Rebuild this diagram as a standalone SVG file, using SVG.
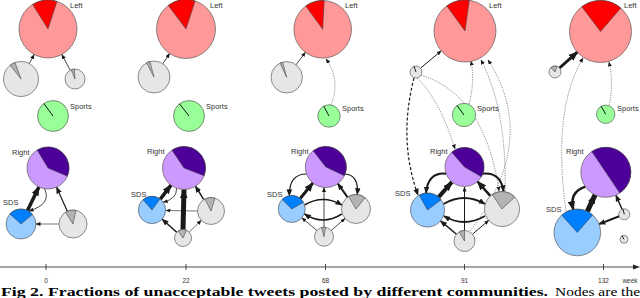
<svg xmlns="http://www.w3.org/2000/svg" width="640" height="298" viewBox="0 0 640 298">
<defs>
<style>
.n{stroke:#444;stroke-width:0.6}
.L{fill:#ff9999}.Ld{fill:#ff0000}
.S{fill:#99ff99}
.R{fill:#cc99ff}.Rd{fill:#4c0099}
.D{fill:#99ccff}.Dd{fill:#0080ff}
.G{fill:#e6e6e6}.Gd{fill:#b3b3b3}
.k{stroke:#000;stroke-width:0.9}
.t{font-family:"Liberation Sans",Arial,sans-serif;font-size:7.5px;fill:#333}
.e{fill:none;stroke:#1a1a1a}
.d{fill:none;stroke:#555;stroke-width:0.7;stroke-dasharray:1.2,1.2}
.a1{marker-end:url(#a1)}.a2{marker-end:url(#a2)}.a3{marker-end:url(#a3)}
.tk{font-family:"Liberation Sans",Arial,sans-serif;font-size:6.5px;fill:#333;text-anchor:middle}
</style>
<marker id="a1" viewBox="0 0 10 8" refX="9" refY="4" markerWidth="5" markerHeight="4" markerUnits="userSpaceOnUse" orient="auto"><path d="M0,0 L10,4 L0,8 z" fill="#1a1a1a"/></marker>
<marker id="a2" viewBox="0 0 10 8" refX="9" refY="4" markerWidth="7" markerHeight="5.6" markerUnits="userSpaceOnUse" orient="auto"><path d="M0,0 L10,4 L0,8 z" fill="#1a1a1a"/></marker>
<marker id="a3" viewBox="0 0 10 8" refX="9" refY="4" markerWidth="9.5" markerHeight="7.6" markerUnits="userSpaceOnUse" orient="auto"><path d="M0,0 L10,4 L0,8 z" fill="#1a1a1a"/></marker>
</defs>
<rect width="640" height="298" fill="#fff"/>

<g id="connectors">
<!-- panel 1 -->
<path class="e a1" stroke-width="0.8" d="M29.3,63.6 L34.2,54.5"/>
<path class="e a1" stroke-width="0.8" d="M70.25,70.2 L61.8,54.5"/>
<path class="e a3" stroke-width="3.5" d="M27.5,210.5 L38.9,186.9"/>
<path class="e a1" stroke-width="0.8" d="M44.5,188.7 Q52,204 29,211"/>
<path class="e a2" stroke-width="1.2" d="M67.3,211.2 L56.6,187.2"/>
<path class="e a1" stroke-width="0.6" d="M59,224 L36,224"/>
<!-- panel 2 -->
<path class="e a1" stroke-width="0.8" d="M162.9,63.7 L169.6,53.5"/>
<path class="e a3" stroke-width="3.5" d="M160.3,199.1 L171,185.1"/>
<path class="e a1" stroke-width="0.8" d="M176.6,188.2 Q177,199 163.2,202.1"/>
<path class="e a3" stroke-width="5" d="M183,229.5 L184,189.5"/>
<path class="e a2" stroke-width="1.5" d="M203.8,199.6 L195.4,186.2"/>
<path class="e a1" stroke-width="0.6" d="M197.5,211 L166,210.5"/>
<path class="e a2" stroke-width="1.5" d="M176.7,232.3 L162.2,219.2"/>
<path class="e a1" stroke-width="0.6" d="M189.1,232.1 L201.3,220.4"/>
<!-- panel 3 -->
<path class="e a1" stroke-width="0.8" d="M296.1,64.7 L305.4,52.3"/>
<path class="d a1" d="M331,105 Q341,80 326,59"/>
<path class="e a2" stroke-width="1.2" d="M306.5,174 Q289,174 289.4,195.7"/>
<path class="e a3" stroke-width="3" d="M300.2,198.5 L312.9,182.9"/>
<path class="e a2" stroke-width="1.2" d="M345.1,174 Q359,175 357.3,194.6"/>
<path class="e a2" stroke-width="2" d="M347.5,197.2 L337.8,183.6"/>
<path class="e a1" stroke-width="0.8" d="M324,227 L324,187.5"/>
<path class="e a2" stroke-width="1.5" d="M304.5,205 Q323,194 341.8,205"/>
<path class="e a2" stroke-width="1.5" d="M341.8,214 Q323,226 304.5,214"/>
<path class="e a1" stroke-width="0.8" d="M316.8,230.5 L301.9,217.8"/>
<path class="e a1" stroke-width="0.8" d="M331.2,230.5 L345,218.5"/>
<!-- panel 4 -->
<path class="e a1" stroke-width="1" d="M420.6,68.1 L441.2,50.9"/>
<path class="d a1" d="M469,104 Q475,82 471,61"/>
<path class="d a1" d="M417,78 Q440,100 455,149"/>
<path class="e a2" stroke-width="1.2" stroke-dasharray="3,2" d="M414,78 Q398,140 418,195"/>
<path class="d a1" d="M421,75 Q485,95 499,191"/>
<path class="d a1" d="M505,191 Q507,110 481,60"/>
<path class="d a1" d="M470,231 Q540,140 488,60"/>
<path class="e a2" stroke-width="2" d="M446.2,173.7 Q428,172 426,193"/>
<path class="e a3" stroke-width="4" d="M438.6,197.1 L451.8,182.2"/>
<path class="e a2" stroke-width="2" d="M482.8,173.7 Q501,172 503.5,191.6"/>
<path class="e a3" stroke-width="2.5" d="M490.3,195.9 L477.5,181.5"/>
<path class="e a2" stroke-width="2" d="M443.5,204 Q464,192 485,204"/>
<path class="e a2" stroke-width="2" d="M485,216 Q464,228 444,216"/>
<path class="e a1" stroke-width="1" d="M464.5,230.5 L464.5,187"/>
<path class="e a2" stroke-width="1.5" d="M456.5,234.3 L440.5,220.9"/>
<path class="e a1" stroke-width="1" d="M472.5,234.2 L488.7,220.4"/>
<!-- panel 5 -->
<path class="e a3" stroke-width="3" d="M559.5,68 L577.3,52.1"/>
<path class="d a1" d="M609,105.5 Q614,85 609,62"/>
<path class="d a1" d="M566,211 Q552,110 583,58"/>
<path class="e a3" stroke-width="2.5" d="M585.3,186.6 Q569,192 573.3,209.6"/>
<path class="e a3" stroke-width="5" d="M587.3,211.4 L595.1,194.9"/>
<path class="e a2" stroke-width="1.5" d="M622.1,209.3 L615.9,195.2"/>
<path class="e a2" stroke-width="2" d="M619.2,216.3 L599,224.1"/>
</g>

<!-- Panel 1 -->
<g id="p1-left"><circle class="n L" cx="48" cy="29" r="29"/><path class="n Ld" d="M48,29 L32.63,4.41 A29,29 0 0 1 56.96,1.42 Z"/><text class="t" x="70" y="8">Left</text></g>
<g id="p1-node-a"><circle class="n G" cx="21" cy="79" r="17.5"/><path class="n Gd" d="M21,79 L10.22,65.21 A17.5,17.5 0 0 1 15.01,62.56 Z"/></g>
<g id="p1-node-b"><circle class="n G" cx="75" cy="79" r="10"/><path class="n Gd" d="M75,79 L71.25,69.73 A10,10 0 0 1 74.3,69.02 Z"/></g>
<g id="p1-sports"><circle class="n S" cx="53" cy="116" r="15.5"/><line class="k" x1="53" y1="116" x2="43.89" y2="103.46"/><text class="t" x="70" y="109">Sports</text></g>
<g id="p1-right"><circle class="n R" cx="48" cy="168" r="21"/><path class="n Rd" d="M48,168 L37.18,150 A21,21 0 0 1 67.33,176.21 Z"/><text class="t" x="12" y="155">Right</text></g>
<g id="p1-sds"><circle class="n D" cx="21" cy="224" r="15"/><path class="n Dd" d="M21,224 L9.85,213.96 A15,15 0 0 1 32.49,214.36 Z"/><text class="t" x="3" y="205">SDS</text></g>
<g id="p1-node-c"><circle class="n G" cx="73" cy="224" r="14"/><path class="n Gd" d="M73,224 L65.58,212.13 A14,14 0 0 1 75.91,210.31 Z"/></g>

<!-- Panel 2 -->
<g id="p2-left"><circle class="n L" cx="186" cy="29" r="29.5"/><path class="n Ld" d="M186,29 L168.24,5.43 A29.5,29.5 0 0 1 195.12,0.95 Z"/><text class="t" x="210" y="8">Left</text></g>
<g id="p2-node-a"><circle class="n G" cx="154" cy="77" r="16"/><path class="n Gd" d="M154,77 L146.5,62.87 A16,16 0 0 1 149.86,61.54 Z"/></g>
<g id="p2-sports"><circle class="n S" cx="189" cy="116" r="15.5"/><line class="k" x1="189" y1="116" x2="179.46" y2="103.79"/><text class="t" x="206" y="109">Sports</text></g>
<g id="p2-right"><circle class="n R" cx="184" cy="168" r="21.5"/><path class="n Rd" d="M184,168 L171.98,150.18 A21.5,21.5 0 0 1 204.07,175.7 Z"/><text class="t" x="147" y="154">Right</text></g>
<g id="p2-sds"><circle class="n D" cx="152" cy="210" r="13.7"/><path class="n Dd" d="M152,210 L143.01,199.66 A13.7,13.7 0 0 1 160.05,198.92 Z"/><text class="t" x="131" y="197">SDS</text></g>
<g id="p2-node-c"><circle class="n G" cx="211" cy="211" r="13.5"/><path class="n Gd" d="M211,211 L204.87,198.97 A13.5,13.5 0 0 1 214.94,198.09 Z"/></g>
<g id="p2-node-d"><circle class="n G" cx="183" cy="238" r="8.5"/><path class="n Gd" d="M183,238 L178.12,231.04 A8.5,8.5 0 0 1 186.6,230.3 Z"/></g>

<!-- Panel 3 -->
<g id="p3-left"><circle class="n L" cx="322.7" cy="29.3" r="28.8"/><path class="n Ld" d="M322.7,29.3 L305.77,6 A28.8,28.8 0 0 1 324.21,0.53 Z"/><text class="t" x="345" y="8">Left</text></g>
<g id="p3-node-a"><circle class="n G" cx="286.7" cy="77.3" r="15.7"/><path class="n Gd" d="M286.7,77.3 L280.06,63.08 A15.7,15.7 0 0 1 282.63,62.13 Z"/></g>
<g id="p3-sports"><circle class="n S" cx="329" cy="116" r="11.2"/><line class="k" x1="329" y1="116" x2="323.75" y2="106.11"/><text class="t" x="342" y="111">Sports</text></g>
<g id="p3-right"><circle class="n R" cx="325.8" cy="167" r="20.5"/><path class="n Rd" d="M325.8,167 L313.17,150.85 A20.5,20.5 0 0 1 344.38,175.66 Z"/><text class="t" x="291" y="154">Right</text></g>
<g id="p3-sds"><circle class="n D" cx="291.7" cy="209" r="13.5"/><path class="n Dd" d="M291.7,209 L282.15,199.45 A13.5,13.5 0 0 1 303.39,202.25 Z"/><text class="t" x="267" y="197">SDS</text></g>
<g id="p3-node-c"><circle class="n G" cx="356" cy="209" r="14.5"/><path class="n Gd" d="M356,209 L348.53,196.57 A14.5,14.5 0 0 1 365.12,197.73 Z"/></g>
<g id="p3-node-d"><circle class="n G" cx="324" cy="236.7" r="9.5"/><path class="n Gd" d="M324,236.7 L321.54,227.52 A9.5,9.5 0 0 1 325.65,227.34 Z"/></g>

<!-- Panel 4 -->
<g id="p4-left"><circle class="n L" cx="465" cy="31" r="31"/><path class="n Ld" d="M465,31 L446.78,5.92 A31,31 0 0 1 469.31,0.3 Z"/><text class="t" x="489" y="8">Left</text></g>
<g id="p4-node-a"><circle class="n G" cx="416" cy="72" r="6"/><line class="k" x1="416" y1="72" x2="413.95" y2="66.36"/></g>
<g id="p4-sports"><circle class="n S" cx="464" cy="115" r="11.7"/><line class="k" x1="464" y1="115" x2="457.12" y2="105.53"/><text class="t" x="477" y="111">Sports</text></g>
<g id="p4-right"><circle class="n R" cx="464.5" cy="167" r="19.5"/><path class="n Rd" d="M464.5,167 L451.71,152.28 A19.5,19.5 0 0 1 481.39,176.75 Z"/><text class="t" x="430" y="154">Right</text></g>
<g id="p4-sds"><circle class="n D" cx="427.5" cy="210" r="17"/><path class="n Dd" d="M427.5,210 L419.26,195.13 A17,17 0 0 1 441.08,199.77 Z"/><text class="t" x="395" y="196">SDS</text></g>
<g id="p4-node-c"><circle class="n G" cx="502" cy="209" r="17.5"/><path class="n Gd" d="M502,209 L492.21,194.49 A17.5,17.5 0 0 1 514.8,197.07 Z"/></g>
<g id="p4-node-d"><circle class="n G" cx="464.5" cy="241" r="10.5"/><path class="n Gd" d="M464.5,241 L459.25,231.91 A10.5,10.5 0 0 1 464.5,230.5 Z"/></g>

<!-- Panel 5 -->
<g id="p5-left"><circle class="n L" cx="600.5" cy="31.5" r="31"/><path class="n Ld" d="M600.5,31.5 L581.84,6.73 A31,31 0 0 1 620.84,8.09 Z"/><text class="t" x="624" y="8">Left</text></g>
<g id="p5-node-a"><circle class="n G" cx="555" cy="72" r="6"/><path class="n Gd" d="M555,72 L550.76,67.76 A6,6 0 0 1 557.05,66.36 Z"/></g>
<g id="p5-sports"><circle class="n S" cx="605.7" cy="114.3" r="9.2"/><line class="k" x1="605.7" y1="114.3" x2="601.1" y2="106.3"/><text class="t" x="617" y="111">Sports</text></g>
<g id="p5-right"><circle class="n R" cx="605.8" cy="172.3" r="25"/><path class="n Rd" d="M605.8,172.3 L591.82,151.57 A25,25 0 0 1 619.78,193.03 Z"/><text class="t" x="566" y="154">Right</text></g>
<g id="p5-sds"><circle class="n D" cx="577.3" cy="232.5" r="23.3"/><path class="n Dd" d="M577.3,232.5 L561.71,215.19 A23.3,23.3 0 0 1 592.59,214.91 Z"/><text class="t" x="546" y="212">SDS</text></g>
<g id="p5-node-c"><circle class="n G" cx="624.3" cy="214.3" r="5.5"/><line class="k" x1="624.3" y1="214.3" x2="622.9" y2="209"/></g>
<g id="p5-node-d"><circle class="n G" cx="624" cy="239.3" r="4"/><line class="k" x1="624" y1="239.3" x2="622" y2="235.8"/></g>

<!-- Axis -->
<g id="axis">
<line x1="0" y1="267" x2="634" y2="267" stroke="#222" stroke-width="0.8"/>
<polygon points="640,267 633,264.6 633,269.4" fill="#222"/>
<g stroke="#222" stroke-width="0.8">
<line x1="46" y1="264" x2="46" y2="270"/>
<line x1="186" y1="264" x2="186" y2="270"/>
<line x1="325.5" y1="264" x2="325.5" y2="270"/>
<line x1="464.5" y1="264" x2="464.5" y2="270"/>
<line x1="603.5" y1="264" x2="603.5" y2="270"/>
</g>
<text class="tk" x="46" y="283">0</text>
<text class="tk" x="186" y="283">22</text>
<text class="tk" x="325.5" y="283">68</text>
<text class="tk" x="464.5" y="283">91</text>
<text class="tk" x="603.5" y="283">132</text>
<text class="tk" x="630" y="283">week</text>
</g>

<g id="caption">
<text x="1" y="296" font-family="Liberation Serif,'Times New Roman',serif" font-size="13.5" font-weight="bold" textLength="547" lengthAdjust="spacingAndGlyphs">Fig 2. Fractions of unacceptable tweets posted by different communities.</text>
<text x="555" y="296" font-family="Liberation Serif,'Times New Roman',serif" font-size="13.5" textLength="85" lengthAdjust="spacingAndGlyphs">Nodes are the</text>
</g>
</svg>
